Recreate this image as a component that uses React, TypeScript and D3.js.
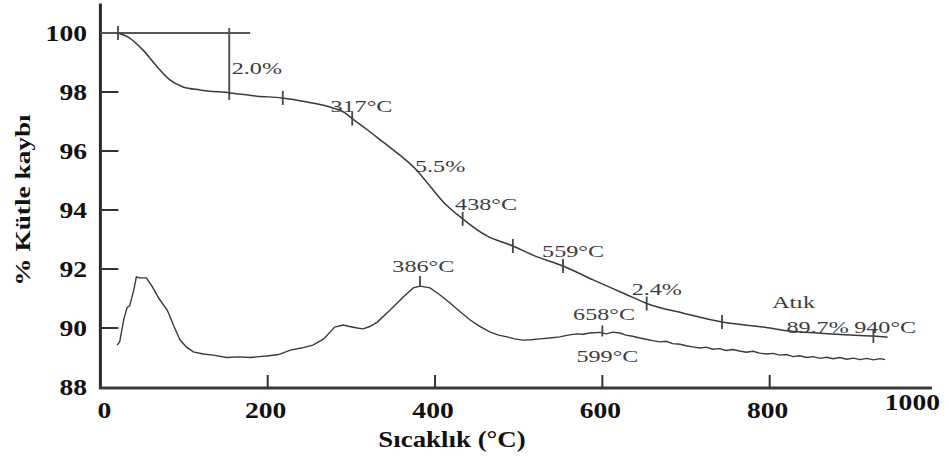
import React from 'react';
import * as d3 from 'd3';

// eksen değerleri
const tempTicks = [0, 200, 400, 600, 800, 1000];
const massTicks = [88, 90, 92, 94, 96, 98, 100];

// TG eğrisi (sıcaklık, % kütle)
const tgTemp = [21, 35, 51, 68, 83, 99, 119, 155, 187, 217, 247, 278, 292, 301, 319, 338, 358, 378, 390, 409, 433, 462, 493, 517, 553, 589, 637, 653, 697, 743, 792, 824, 857, 897, 924, 941];
const tgMass = [100, 99.83, 99.42, 98.85, 98.41, 98.17, 98.07, 97.97, 97.86, 97.8, 97.66, 97.46, 97.3, 97.1, 96.72, 96.3, 95.86, 95.35, 94.95, 94.3, 93.7, 93.12, 92.78, 92.47, 92.1, 91.63, 91.03, 90.83, 90.5, 90.2, 90.03, 89.9, 89.83, 89.76, 89.73, 89.69];

// DTG eğrisi
const dtgTemp = [20, 23, 28, 32, 35, 40, 43, 47, 55, 62, 70, 80, 88, 95, 103, 111, 123, 135, 151, 165, 179, 199, 213, 227, 240, 254, 267, 280, 290, 298, 307, 314, 322, 331, 346, 362, 374, 382, 394, 406, 418, 430, 442, 454, 466, 476, 486, 495, 505, 515, 525, 537, 549, 559, 569, 577, 585, 597, 605, 612, 621, 628, 636, 645, 652, 660, 669, 676, 684, 693, 700, 708, 717, 724, 732, 740, 748, 756, 764, 772, 780, 788, 796, 804, 812, 820, 828, 836, 844, 852, 860, 868, 876, 884, 892, 900, 908, 916, 924, 932, 938];
const dtgMass = [89.42, 89.53, 90.3, 90.7, 90.75, 91.3, 91.73, 91.7, 91.7, 91.4, 91.0, 90.6, 90.05, 89.6, 89.35, 89.19, 89.12, 89.08, 89.0, 89.02, 89.0, 89.05, 89.1, 89.25, 89.32, 89.42, 89.63, 90.03, 90.1, 90.05, 90.0, 89.97, 90.05, 90.2, 90.6, 91.05, 91.36, 91.42, 91.36, 91.12, 90.85, 90.55, 90.27, 90.05, 89.86, 89.76, 89.7, 89.63, 89.59, 89.6, 89.63, 89.66, 89.7, 89.76, 89.8, 89.79, 89.83, 89.85, 89.8, 89.86, 89.83, 89.76, 89.72, 89.66, 89.62, 89.57, 89.53, 89.55, 89.47, 89.45, 89.4, 89.36, 89.32, 89.35, 89.28, 89.3, 89.24, 89.27, 89.22, 89.18, 89.21, 89.15, 89.12, 89.14, 89.08, 89.1, 89.03, 89.06, 89.0, 89.03, 88.97, 89.01, 88.96, 89.0, 88.94, 88.98, 88.93, 88.97, 88.92, 88.96, 88.93];

// eğri üzerindeki işaretler
const tgMarkTemp = [21, 218, 301, 433, 493, 553, 653, 743, 924];
const tgMarkMass = [100, 97.8, 97.1, 93.7, 92.78, 92.1, 90.83, 90.2, 89.73];
const dtgMarkTemp = [382, 600];
const dtgMarkMass = [91.42, 89.85];

// etiketler
const labelText = ['2.0%', '317°C', '5.5%', '438°C', '559°C', '386°C', '2.4%', 'Atık', '658°C', '89.7%', '940°C', '599°C'];
const labelTemp = [157, 275, 376, 424, 528, 349, 635, 803, 565, 820, 901, 569];
const labelMass = [98.61, 97.32, 95.29, 94.0, 92.41, 91.9, 91.12, 90.68, 90.27, 89.83, 89.83, 88.85];

const W = 949;
const H = 460;
const serif = '"Liberation Serif", "Times New Roman", serif';

const App = () => {
    const x = d3.scaleLinear().domain([0, 1000]).range([100.4, 937]);
    const y = d3.scaleLinear().domain([88, 100]).range([387, 33]);

    const tg = tgTemp.map((t, i) => [t, tgMass[i]] as [number, number]);
    const dtg = dtgTemp.map((t, i) => [t, dtgMass[i]] as [number, number]);

    const tgLine = d3.line<[number, number]>()
        .x(d => x(d[0]))
        .y(d => y(d[1]))
        .curve(d3.curveMonotoneX);
    const dtgLine = d3.line<[number, number]>()
        .x(d => x(d[0]))
        .y(d => y(d[1]));

    const ink = '#3a3a3a';

    return (
        <svg width={W} height={H} style={{ position: 'absolute', left: 0, top: 0, background: '#fff' }}>
            {/* eksenler */}
            <line x1={x(0)} x2={x(0)} y1={y(101)} y2={y(88) + 1.5} stroke="#2b2b2b" strokeWidth={3} />
            <line x1={x(0) - 1.5} x2={932} y1={y(88) + 1} y2={y(88) + 1} stroke="#3a3a3a" strokeWidth={3} />

            {massTicks.filter(v => v > 88 && v < 100).map(v => (
                <line key={'yt' + v} x1={x(0)} x2={x(0) + 18} y1={y(v)} y2={y(v)} stroke="#333" strokeWidth={2} />
            ))}
            {tempTicks.filter(t => t > 0 && t < 1000).map(t => (
                <line key={'xt' + t} x1={x(t)} x2={x(t)} y1={y(88)} y2={y(88) - 12} stroke="#333" strokeWidth={2} />
            ))}

            {massTicks.map(v => (
                <text key={'yl' + v} transform={`translate(87,${y(v) + 8}) scale(1.2,1)`} textAnchor="end"
                    fontFamily={serif} fontWeight="bold" fontSize={23} fill="#111">{v}</text>
            ))}
            {tempTicks.map(t => (
                <text key={'xl' + t}
                    transform={`translate(${t === 1000 ? 940 : x(t) + (t === 0 ? 4 : -2)},${t === 1000 ? 410 : 418}) scale(1.2,1)`}
                    textAnchor={t === 1000 ? 'end' : 'middle'}
                    fontFamily={serif} fontWeight="bold" fontSize={23} fill="#111">{t}</text>
            ))}

            <text transform="translate(452,447) scale(1.12,1)" textAnchor="middle" fontFamily={serif}
                fontWeight="bold" fontSize={24} fill="#111">Sıcaklık (°C)</text>
            <text transform="translate(30,200) rotate(-90) scale(1.3,1)" textAnchor="middle" fontFamily={serif}
                fontWeight="bold" fontSize={21} fill="#111">% Kütle kaybı</text>

            {/* 2.0% basamak çizgileri */}
            <line x1={x(0)} x2={x(179)} y1={y(100)} y2={y(100)} stroke="#555" strokeWidth={2} />
            <line x1={x(154)} x2={x(154)} y1={y(100.17)} y2={y(97.73)} stroke="#555" strokeWidth={2} />

            {/* eğriler */}
            <path d={tgLine(tg) ?? ''} fill="none" stroke={ink} strokeWidth={1.5} />
            <path d={dtgLine(dtg) ?? ''} fill="none" stroke={ink} strokeWidth={1.4} />

            {tgMarkTemp.map((t, i) => (
                <line key={'tm' + i} x1={x(t)} x2={x(t)} y1={y(tgMarkMass[i]) - 7} y2={y(tgMarkMass[i]) + 7}
                    stroke="#444" strokeWidth={1.8} />
            ))}
            <line x1={x(dtgMarkTemp[0])} x2={x(dtgMarkTemp[0])} y1={y(dtgMarkMass[0])} y2={y(dtgMarkMass[0]) - 10}
                stroke="#444" strokeWidth={1.8} />
            <line x1={x(dtgMarkTemp[1])} x2={x(dtgMarkTemp[1])} y1={y(dtgMarkMass[1]) - 7} y2={y(dtgMarkMass[1]) + 4}
                stroke="#444" strokeWidth={1.8} />

            {labelText.map((s, i) => (
                <text key={'lb' + i} transform={`translate(${x(labelTemp[i])},${y(labelMass[i])}) scale(1.38,1)`}
                    fontFamily={serif} fontSize={17.5} fill="#3d3d3d">{s}</text>
            ))}
        </svg>
    );
};

export default App;
